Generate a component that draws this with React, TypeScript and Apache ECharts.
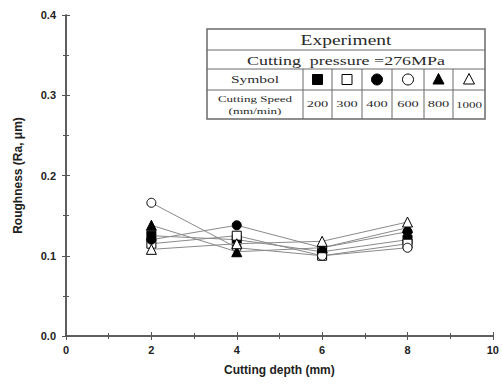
import React, { useEffect, useRef } from "react";
import * as echarts from "echarts";

// Cutting depth (mm) sampled for every speed
const depths = [2, 4, 6, 8];

// Cutting speed (mm/min) of each run, in legend order
const speeds = ["200", "300", "400", "600", "800", "1000"];

// Surface roughness Ra (µm) per cutting depth
const ra200 = [0.125, 0.12, 0.105, 0.12];
const ra300 = [0.115, 0.125, 0.1, 0.115];
const ra400 = [0.12, 0.138, 0.11, 0.13];
const ra600 = [0.166, 0.11, 0.1, 0.11];
const ra800 = [0.138, 0.105, 0.11, 0.135];
const ra1000 = [0.108, 0.115, 0.118, 0.142];

const roughness = [ra200, ra300, ra400, ra600, ra800, ra1000];

const xTicks = [0, 2, 4, 6, 8, 10];

const symbols = ["rect", "rect", "circle", "circle", "triangle", "triangle"];
const filled = [true, false, true, false, true, false];

const FONT = "Liberation Sans";
const SERIF = "Liberation Serif";

export default function App() {
  const ref = useRef<HTMLDivElement>(null);

  useEffect(() => {
    if (!ref.current) return;
    const chart = echarts.init(ref.current, null, { renderer: "svg" });

    const series = roughness.map((vals, i) => ({
      name: speeds[i],
      type: "line",
      data: depths.map((d, j) => [d, vals[j]]),
      symbol: symbols[i],
      symbolSize: symbols[i] === "triangle" ? 10 : 9,
      lineStyle: { color: "#8a8a8a", width: 1 },
      itemStyle: {
        color: filled[i] ? "#000" : "#fff",
        borderColor: "#000",
        borderWidth: 1,
      },
      z: 3 + i,
    }));

    // Legend table
    const tl = 207, tr = 485;
    const rows = [29, 50, 69, 90, 119];
    const cols = [303, 332, 362, 392, 424, 453];
    const lineStyle = { stroke: "#6a6a6a", lineWidth: 1 };
    const graphics: any[] = [];
    const label = (
      text: string,
      x: number,
      y: number,
      size: number,
      scaleX: number,
      lineHeight?: number
    ) => ({
      type: "text",
      x,
      y,
      scaleX,
      style: {
        text,
        font: `${size}px ${SERIF}`,
        lineHeight: lineHeight ?? size + 2,
        fill: "#2a2a2a",
        align: "center",
        verticalAlign: "middle",
      },
      z: 12,
    });

    graphics.push({
      type: "rect",
      shape: { x: tl, y: rows[0], width: tr - tl, height: rows[4] - rows[0] },
      style: { fill: "#fff", stroke: "#6a6a6a", lineWidth: 1.5 },
      z: 10,
    });
    for (let r = 1; r < 4; r++) {
      graphics.push({
        type: "line",
        shape: { x1: tl, y1: rows[r], x2: tr, y2: rows[r] },
        style: lineStyle,
        z: 11,
      });
    }
    cols.forEach((c) =>
      graphics.push({
        type: "line",
        shape: { x1: c, y1: rows[2], x2: c, y2: rows[4] },
        style: lineStyle,
        z: 11,
      })
    );
    const cx = (tl + tr) / 2;
    graphics.push(label("Experiment", cx, (rows[0] + rows[1]) / 2 + 1, 15, 1.3));
    graphics.push(
      label("Cutting  pressure =276MPa", cx, (rows[1] + rows[2]) / 2 + 1, 13, 1.38)
    );
    graphics.push(label("Symbol", (tl + cols[0]) / 2, (rows[2] + rows[3]) / 2, 10, 1.55));
    graphics.push(
      label("Cutting Speed\n(mm/min)", (tl + cols[0]) / 2, (rows[3] + rows[4]) / 2, 9, 1.45, 12)
    );

    const colEdges = [...cols, tr];
    const symY = (rows[2] + rows[3]) / 2;
    for (let i = 0; i < speeds.length; i++) {
      const mx = (colEdges[i] + colEdges[i + 1]) / 2;
      const fill = filled[i] ? "#000" : "#fff";
      const st = { fill, stroke: "#000", lineWidth: 1 };
      if (symbols[i] === "rect") {
        graphics.push({
          type: "rect",
          shape: { x: mx - 5, y: symY - 5, width: 10, height: 10 },
          style: st,
          z: 12,
        });
      } else if (symbols[i] === "circle") {
        graphics.push({
          type: "circle",
          shape: { cx: mx, cy: symY, r: 5.5 },
          style: st,
          z: 12,
        });
      } else {
        graphics.push({
          type: "polygon",
          shape: {
            points: [
              [mx, symY - 6],
              [mx - 5.5, symY + 4.5],
              [mx + 5.5, symY + 4.5],
            ],
          },
          style: st,
          z: 12,
        });
      }
      graphics.push(
        label(speeds[i], mx, (rows[3] + rows[4]) / 2, 9, speeds[i].length > 3 ? 1.45 : 1.6)
      );
    }

    const labelStyle = {
      fontFamily: FONT,
      fontWeight: "bold" as const,
      fontSize: 11,
      color: "#222",
    };
    const tickCommon = {
      axisLine: { show: true, lineStyle: { color: "#555", width: 1.5 } },
      axisTick: { show: true, inside: true, length: 4, lineStyle: { color: "#555" } },
      minorTick: { show: true, splitNumber: 2, length: 3, lineStyle: { color: "#555" } },
      splitLine: { show: false },
    };

    chart.setOption({
      animation: false,
      backgroundColor: "#fff",
      grid: { left: 66, right: 6, top: 15, bottom: 51 },
      xAxis: [
        {
          type: "value",
          min: xTicks[0],
          max: xTicks[xTicks.length - 1],
          interval: 2,
          ...tickCommon,
          axisLabel: { ...labelStyle, margin: 8 },
          name: "Cutting depth (mm)",
          nameLocation: "middle",
          nameGap: 28,
          nameTextStyle: { fontFamily: FONT, fontWeight: "bold", fontSize: 12, color: "#222" },
        },
        {
          type: "value",
          position: "top",
          min: 0,
          max: 10,
          interval: 2,
          ...tickCommon,
          axisLabel: { show: false },
        },
      ],
      yAxis: [
        {
          type: "value",
          min: 0,
          max: 0.4,
          interval: 0.1,
          ...tickCommon,
          axisLabel: { ...labelStyle, margin: 10, formatter: (v: number) => v.toFixed(1) },
          name: "Roughness (Ra, \u03bcm)",
          nameLocation: "middle",
          nameGap: 42,
          nameTextStyle: { fontFamily: FONT, fontWeight: "bold", fontSize: 12, color: "#222" },
        },
        {
          type: "value",
          position: "right",
          min: 0,
          max: 0.4,
          interval: 0.1,
          ...tickCommon,
          axisLabel: { show: false },
        },
      ],
      series,
      graphic: graphics,
    });

    return () => chart.dispose();
  }, []);

  return (
    <div
      ref={ref}
      style={{ position: "fixed", left: 0, top: 0, width: 502, height: 387 }}
    />
  );
}
